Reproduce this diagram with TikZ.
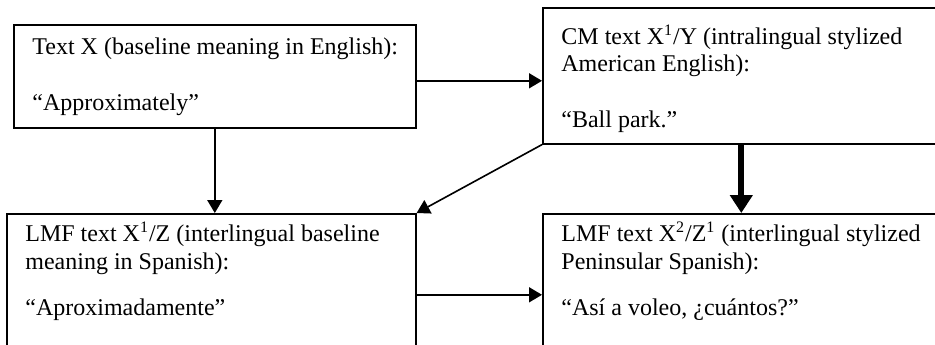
\documentclass[tikz,border=0pt]{standalone}
\usepackage{fontspec}
\setmainfont{Liberation Serif}
\usetikzlibrary{arrows.meta}
\tikzset{
  box/.style={rectangle, draw=black, line width=0.8pt, anchor=north west, inner sep=0pt},
  lbl/.style={anchor=base west, align=left, inner sep=0pt, font=\fontsize{12}{13.8}\selectfont},
  conn/.style={line width=0.8pt, -{Triangle[length=6.5pt,width=7.5pt]}},
  thickconn/.style={line width=3pt, -{Triangle[length=9pt,width=11pt]}}
}
\begin{document}
\begin{tikzpicture}[x=0.5pt, y=-0.5pt]
\clip (0,0) rectangle (935,344);
\node (textX) at (13,24) [box, minimum width=201pt, minimum height=51.5pt] {};
\node (cmY) at (542,7) [box, minimum width=198.5pt, minimum height=68pt] {};
\node (lmfZ) at (6,213) [box, minimum width=204.5pt, minimum height=81pt] {};
\node (lmfXZ) at (542,213) [box, minimum width=198.5pt, minimum height=81pt] {};

% labels are placed by the baseline of their last line
\node (textXlbl) at (32,110) [lbl] {Text X (baseline meaning in English):\\[13.8pt]“Approximately”};
\node (cmYlbl) at (561,127) [lbl] {CM text X\textsuperscript{1}/Y (intralingual stylized\\American English):\\[13.8pt]“Ball park.”};
\node (lmfZlbl) at (25,315) [lbl] {LMF text X\textsuperscript{1}/Z (interlingual baseline\\meaning in Spanish):\\[9.2pt]“Aproximadamente”};
\node (lmfXZlbl) at (561,315) [lbl] {LMF text X\textsuperscript{2}/Z\textsuperscript{1} (interlingual stylized\\Peninsular Spanish):\\[9.2pt]“Así a voleo, ¿cuántos?”};

\draw[conn] ([yshift=-2.25pt]textX.east) -- ([yshift=-2.25pt]textX.east -| cmY.west);
\draw[conn] (textX.south) -- (textX.south |- lmfZ.north);
\draw[conn] (cmY.south west) -- (lmfZ.north east);
\draw[thickconn] (cmY.south) -- (cmY.south |- lmfXZ.north);
\draw[conn] (lmfZ.east) -- (lmfZ.east -| lmfXZ.west);
\end{tikzpicture}
\end{document}
